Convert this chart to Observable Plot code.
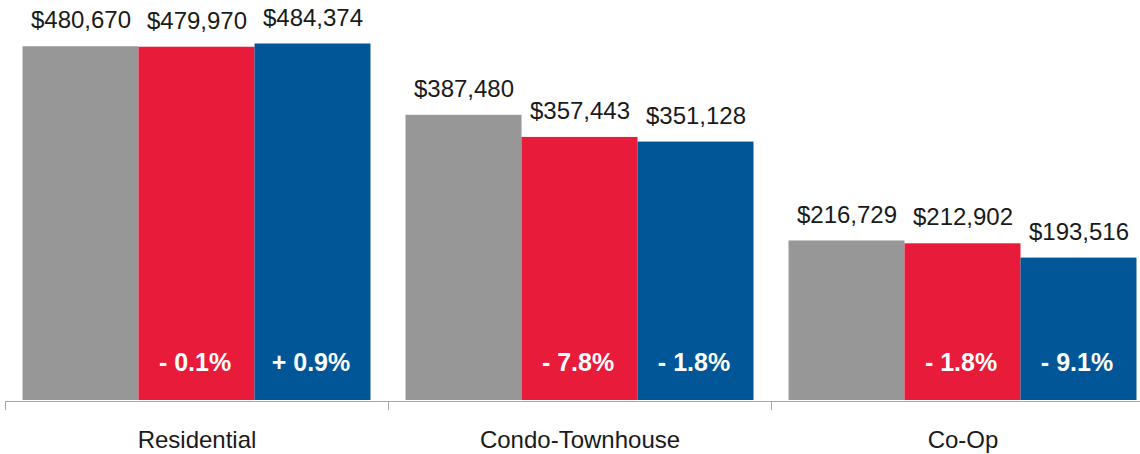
<!DOCTYPE html>
<html><head><meta charset="utf-8">
<script src="https://cdn.jsdelivr.net/npm/d3@7"></script>
<script src="https://cdn.jsdelivr.net/npm/@observablehq/plot@0.6"></script>
<style>body{margin:0;background:#fff;overflow:hidden}</style>
</head><body><div id="chart"></div>
<script>
const categories = ["Residential", "Condo-Townhouse", "Co-Op"];
const series = ["Period 1", "Period 2", "Period 3"];
const grayValues = [480670, 387480, 216729];
const redValues = [479970, 357443, 212902];
const blueValues = [484374, 351128, 193516];
const redChange = ["- 0.1%", "- 7.8%", "- 1.8%"];
const blueChange = ["+ 0.9%", "- 1.8%", "- 9.1%"];
const colors = ["#979797", "#e81b3a", "#005696"];

const seriesValues = [grayValues, redValues, blueValues];
const seriesChange = [null, redChange, blueChange];
const rows = [];
categories.forEach((c, i) => {
  series.forEach((s, j) => {
    rows.push({category: c, series: s, value: seriesValues[j][i], change: seriesChange[j] ? seriesChange[j][i] : null});
  });
});

const font = "'Liberation Sans', Arial, Helvetica, sans-serif";
const chart = Plot.plot({
  width: 1140,
  height: 454,
  marginTop: 32,
  marginBottom: 54,
  marginLeft: 5,
  marginRight: 0,
  style: {fontFamily: font, background: "#fff"},
  fx: {domain: categories, range: [5, 1154], padding: 0, round: false, axis: null},
  x: {domain: series, paddingInner: 0, paddingOuter: 0.151, round: false, axis: null},
  y: {domain: [0, 500000], axis: null},
  color: {domain: series, range: colors},
  marks: [
    Plot.barY(rows, {fx: "category", x: "series", y: "value", fill: "series"}),
    Plot.ruleY([0], {stroke: "#a6a6a6", dy: 1}),
    Plot.frame({anchor: "left", stroke: "#a6a6a6", insetTop: 360, dy: 9}),
    Plot.text(rows, {fx: "category", x: "series", y: "value", text: d => "$" + d3.format(",")(d.value), lineAnchor: "middle", dy: -26, fontSize: 24, fill: "#1a1a1a"}),
    Plot.text(rows.filter(d => d.change), {fx: "category", x: "series", frameAnchor: "bottom", text: "change", lineAnchor: "middle", dy: -38, dx: -2, fontSize: 25, fontWeight: "bold", fill: "#fff"}),
    Plot.text(categories, {fx: d => d, frameAnchor: "bottom", text: d => d, lineAnchor: "middle", dy: 40, fontSize: 24, fill: "#1a1a1a"})
  ]
});
document.getElementById("chart").appendChild(chart);
</script>
</body></html>
